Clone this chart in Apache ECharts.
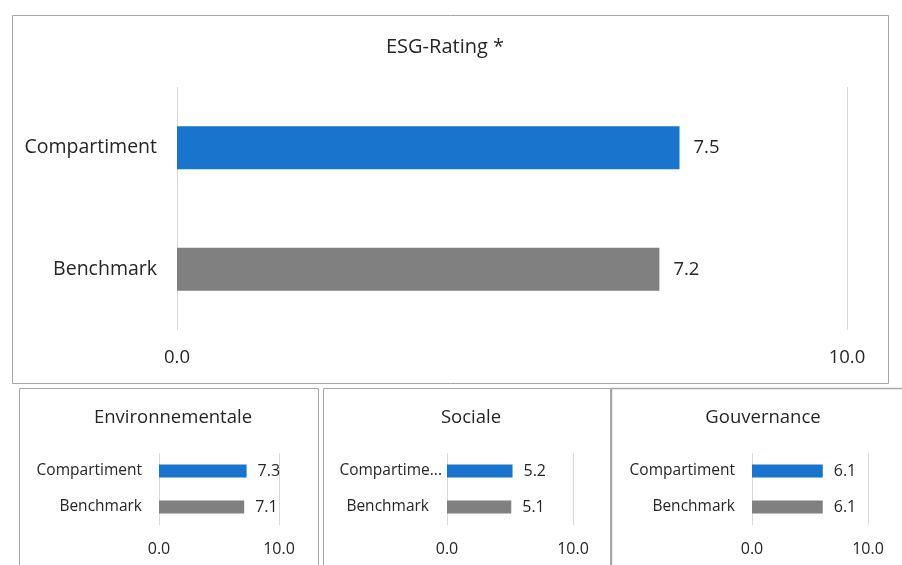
<!DOCTYPE html>
<html>
<head>
<meta charset="utf-8">
<script src="https://cdn.jsdelivr.net/npm/echarts@6/dist/echarts.min.js"></script>
<style>html,body{margin:0;padding:0;background:#fff;}#c{width:902px;height:565px;}</style>
</head>
<body>
<div id="c"></div>
<script>
var categories = ['Compartiment', 'Benchmark'];
var panelTitles = ['ESG-Rating *', 'Environnementale', 'Sociale', 'Gouvernance'];
var esgValues = [7.5, 7.2];
var envValues = [7.3, 7.1];
var socValues = [5.2, 5.1];
var govValues = [6.1, 6.1];
var axisMin = 0, axisMax = 10;
var barColors = ['#1874CD', '#808080'];

var FONT = 'Open Sans';
var TXT = '#262626';
var allValues = [esgValues, envValues, socValues, govValues];

var grids = [
  {left: 177, right: 55, top: 87, bottom: 235},
  {left: 159, right: 623, top: 453, bottom: 40},
  {left: 447, right: 329, top: 453, bottom: 40},
  {left: 752, right: 34, top: 453, bottom: 40}
];
var titlePos = [{x: 440, y: 32, s: 20}, {x: 168, y: 403, s: 18.5}, {x: 466, y: 403, s: 18.5}, {x: 758, y: 403, s: 18.5}];
var big = [true, false, false, false];

var option = {
  backgroundColor: '#fff',
  animation: false,
  title: panelTitles.map(function (t, i) {
    return {text: t, left: titlePos[i].x, top: titlePos[i].y, textAlign: 'center',
      textStyle: {fontFamily: FONT, fontSize: titlePos[i].s, fontWeight: 'normal', color: TXT}};
  }),
  grid: grids,
  xAxis: grids.map(function (g, i) {
    return {type: 'value', gridIndex: i, min: axisMin, max: axisMax, interval: 10,
      axisLine: {show: false}, axisTick: {show: false},
      splitLine: {show: true, lineStyle: {color: '#d9d9d9', width: 1}},
      axisLabel: {margin: big[i] ? 18 : 16, fontFamily: FONT, fontSize: big[i] ? 18.5 : 16, color: TXT,
        formatter: function (v) { return v.toFixed(1); }}};
  }),
  yAxis: grids.map(function (g, i) {
    var lbl = {margin: big[i] ? 20 : 17, fontFamily: FONT, fontSize: big[i] ? 19.5 : 15.5, color: TXT};
    if (i === 2) {
      lbl.margin = 5;
      lbl.width = 105;
      lbl.overflow = 'truncate';
      lbl.ellipsis = '...';
      lbl.rich = {b: {fontFamily: FONT, fontSize: 15.5, color: TXT, padding: [0, 13, 0, 0]}};
      lbl.formatter = function (v) { return v === 'Benchmark' ? '{b|' + v + '}' : v; };
    }
    return {type: 'category', gridIndex: i, data: categories, inverse: true,
      axisLine: {show: false}, axisTick: {show: false}, splitLine: {show: false},
      axisLabel: lbl};
  }),
  series: allValues.map(function (vals, i) {
    return {type: 'bar', xAxisIndex: i, yAxisIndex: i, barWidth: big[i] ? 43 : 13,
      data: vals.map(function (v, k) { return {value: v, itemStyle: {color: barColors[k]}}; }),
      label: {show: true, position: 'right', distance: big[i] ? 14 : 11,
        fontFamily: FONT, fontSize: big[i] ? 18.5 : 16, color: TXT,
        formatter: function (p) { return p.value.toFixed(1); }}};
  }),
  graphic: [
    {type: 'rect', shape: {x: 12.5, y: 15.5, width: 876, height: 368}, style: {fill: 'none', stroke: '#a6a6a6', lineWidth: 1}},
    {type: 'rect', shape: {x: 19.5, y: 388.5, width: 299, height: 190}, style: {fill: 'none', stroke: '#a6a6a6', lineWidth: 1}},
    {type: 'rect', shape: {x: 323.5, y: 388.5, width: 287, height: 190}, style: {fill: 'none', stroke: '#a6a6a6', lineWidth: 1}},
    {type: 'rect', shape: {x: 611.5, y: 388.5, width: 300, height: 190}, style: {fill: 'none', stroke: '#a6a6a6', lineWidth: 1.5}}
  ]
};
echarts.init(document.getElementById('c')).setOption(option);
</script>
</body>
</html>
